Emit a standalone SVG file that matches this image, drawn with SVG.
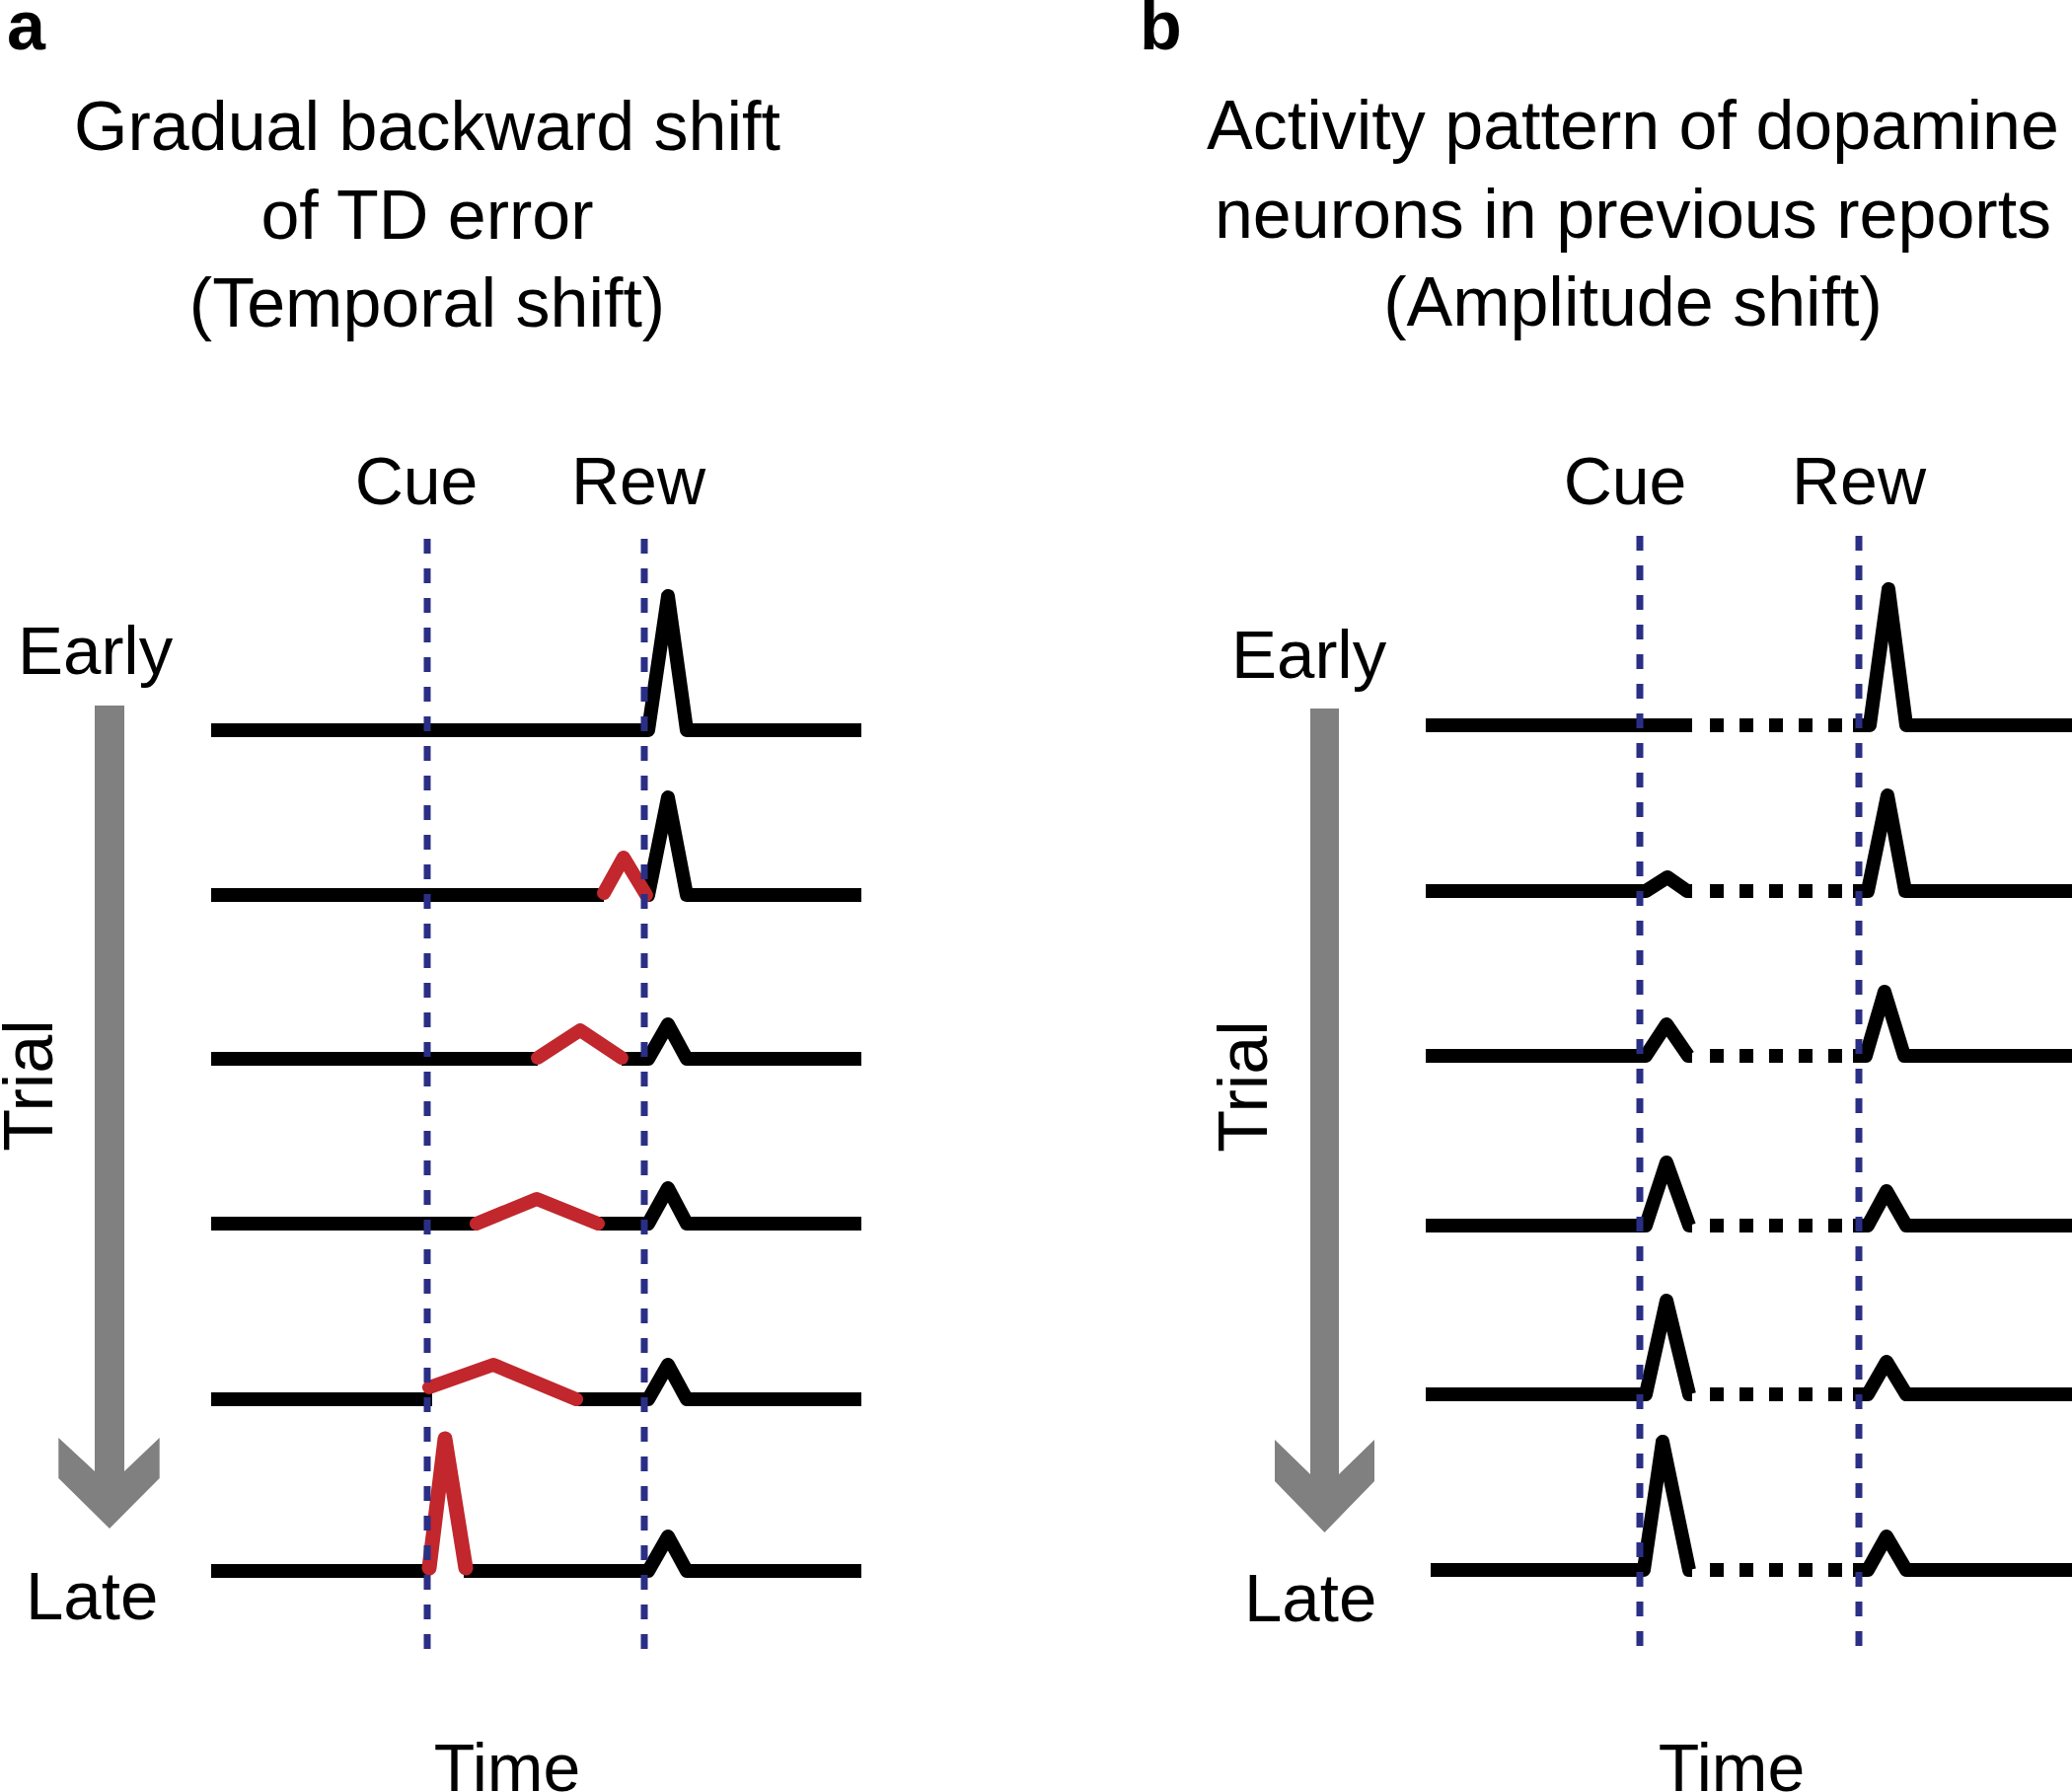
<svg xmlns="http://www.w3.org/2000/svg" width="2100" height="1816" viewBox="0 0 2100 1816">
<style>
text{font-family:"Liberation Sans",Arial,sans-serif;fill:#000}
.t{font-size:70px;text-anchor:middle}
.lb{font-size:69px}
.lbc{font-size:68px;text-anchor:middle}
.pl{font-size:70px;font-weight:bold}
.tr{fill:none;stroke:#000;stroke-width:14;stroke-linejoin:round;stroke-linecap:butt}
.red{fill:none;stroke:#c1272d;stroke-width:14;stroke-linejoin:round;stroke-linecap:round}
.dot{fill:none;stroke:#000;stroke-width:14;stroke-dasharray:14 16}
.vd{fill:none;stroke:#2a2f85;stroke-width:7;stroke-dasharray:15 15}
.arr{fill:#808080}
</style>
<rect width="2100" height="1816" fill="#fff"/>

<g id="panel-a-labels">
<text class="pl" x="7" y="50">a</text>
<text class="t" x="433" y="152">Gradual backward shift</text>
<text class="t" x="433" y="242">of TD error</text>
<text class="t" x="433" y="331">(Temporal shift)</text>
<text class="lbc" x="422" y="511">Cue</text>
<text class="lbc" x="647" y="511">Rew</text>
<text class="lb" x="18" y="683">Early</text>
<text class="lb" x="26" y="1641">Late</text>
<text class="t" transform="translate(53,1100) rotate(-90)">Trial</text>
<text class="lbc" x="514" y="1815">Time</text>
</g>

<g id="panel-b-labels">
<text class="pl" x="1155" y="50">b</text>
<text class="t" x="1655" y="151">Activity pattern of dopamine</text>
<text class="t" x="1655" y="241">neurons in previous reports</text>
<text class="t" x="1655" y="330">(Amplitude shift)</text>
<text class="lbc" x="1647" y="511">Cue</text>
<text class="lbc" x="1884" y="511">Rew</text>
<text class="lb" x="1248" y="687">Early</text>
<text class="lb" x="1261" y="1643">Late</text>
<text class="t" transform="translate(1284,1101) rotate(-90)">Trial</text>
<text class="lbc" x="1755" y="1815">Time</text>
</g>

<g id="arrow-a">
<polygon class="arr" points="96,715 126,715 126,1491 161.7,1457 161.7,1498 111,1549 59.3,1498 59.3,1457 96,1491"/>
</g>
<g id="arrow-b">
<polygon class="arr" points="1328,718 1357,718 1357,1494 1393,1459 1393,1501 1342.5,1553 1292,1501 1292,1459 1328,1494"/>
</g>

<g id="panel-a-traces">
<path class="tr" d="M214,740 H657 L677,604 L696,740 H873"/>
<path class="tr" d="M214,907 H612 M653,907 H657 L677,808 L696,907 H873"/>
<path class="tr" d="M214,1073 H545 M630,1073 H657 L677,1038 L696,1073 H873"/>
<path class="tr" d="M214,1240 H483 M606,1240 H657 L677,1204 L696,1240 H873"/>
<path class="tr" d="M214,1418 H438 M584,1418 H657 L677,1383 L696,1418 H873"/>
<path class="tr" d="M214,1592 H434 M470,1592 H657 L677,1557 L696,1592 H873"/>
<path class="red" d="M612,905 L632,869 L655,907"/>
<path class="red" d="M545,1072 L588,1044 L630,1072"/>
<path class="red" d="M483,1240 L544,1215 L606,1240"/>
<path class="red" d="M435,1406 L500,1383 L584,1418"/>
<path class="red" d="M435,1589 L451,1458 L472,1589" style="stroke-width:15"/>
</g>

<g id="panel-b-traces">
<path class="tr" d="M1445,735 H1715 M1878,735 H1895 L1914,597 L1932,735 H2100"/>
<path class="tr" d="M1445,903 H1668 L1690,889 L1710,903 H1715 M1878,903 H1893 L1913,806 L1931,903 H2100"/>
<path class="tr" d="M1445,1070 H1668 L1689,1038 L1711,1070 H1715 M1878,1070 H1891 L1910,1005 L1930,1070 H2100"/>
<path class="tr" d="M1445,1242 H1668 L1689,1178 L1712,1242 H1715 M1878,1242 H1893 L1912,1207 L1932,1242 H2100"/>
<path class="tr" d="M1445,1413 H1668 L1689,1318 L1712,1413 H1715 M1878,1413 H1893 L1912,1380 L1932,1413 H2100"/>
<path class="tr" d="M1450,1591 H1666 L1685,1461 L1712,1591 H1715 M1878,1591 H1893 L1912,1557 L1932,1591 H2100"/>
<path class="dot" d="M1733,735 H1867 M1733,903 H1867 M1733,1070 H1867 M1733,1242 H1867 M1733,1413 H1867 M1733,1591 H1867"/>
</g>

<g id="connectors">
<line class="vd" x1="433" y1="546" x2="433" y2="1686"/>
<line class="vd" x1="653" y1="546" x2="653" y2="1686"/>
<line class="vd" x1="1662" y1="543" x2="1662" y2="1683"/>
<line class="vd" x1="1884" y1="543" x2="1884" y2="1683"/>
</g>
</svg>
